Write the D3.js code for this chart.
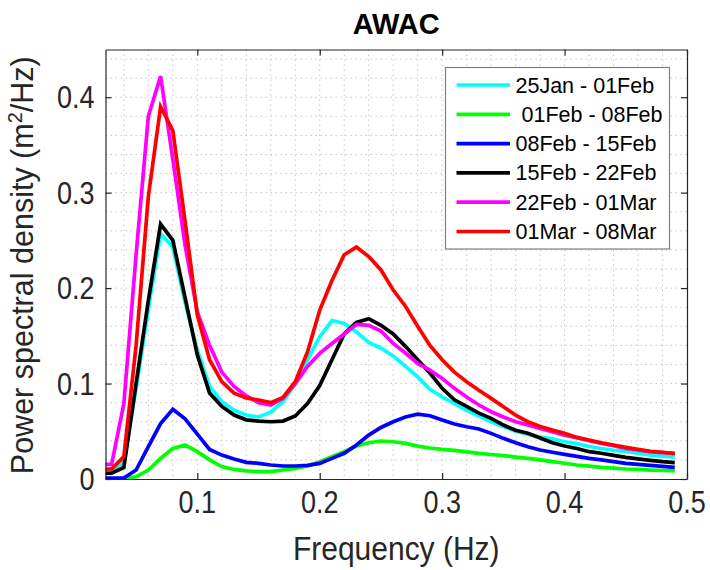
<!DOCTYPE html>
<html>
<head>
<meta charset="utf-8">
<script src="https://cdn.jsdelivr.net/npm/d3@7"></script>
<style>
  body { margin: 0; background: #fff; }
  text { font-family: "Liberation Sans", Arial, sans-serif; fill: #262626; }
</style>
</head>
<body>
<div id="chart"></div>
<script>
// data
const freq = [0.02,0.03,0.04,0.05,0.06,0.07,0.08,0.09,0.10,0.11,0.12,0.13,0.14,0.15,0.16,0.17,
  0.18,0.19,0.20,0.21,0.22,0.23,0.24,0.25,0.26,0.27,0.28,0.29,0.30,0.31,0.32,0.33,0.34,0.35,
  0.36,0.37,0.38,0.39,0.40,0.41,0.42,0.43,0.44,0.45,0.46,0.47,0.48,0.49];

const jan25 = [0.008,0.008,0.018,0.095,0.178,0.257,0.243,0.185,0.135,0.097,0.081,0.072,0.067,0.065,0.070,0.081,
  0.100,0.125,0.149,0.166,0.163,0.154,0.143,0.137,0.129,0.118,0.107,0.094,0.086,0.079,0.072,0.066,0.060,0.055,
  0.050,0.047,0.044,0.042,0.039,0.037,0.034,0.032,0.030,0.029,0.027,0.025,0.024,0.023];
const feb01 = [0,0,0,0.0024,0.0094,0.0216,0.032,0.0356,0.0286,0.020,0.013,0.010,0.0085,0.0077,0.0077,0.0094,
  0.0112,0.0136,0.0182,0.0234,0.0286,0.0346,0.038,0.0398,0.039,0.0373,0.0345,0.0325,0.031,0.030,0.0285,0.0269,0.0257,0.0245,
  0.023,0.0216,0.020,0.0182,0.0165,0.0147,0.0135,0.0122,0.0113,0.0105,0.010,0.0094,0.0089,0.0084];
const feb08 = [0.001,0.001,0.001,0.0094,0.034,0.058,0.073,0.063,0.047,0.031,0.025,0.021,0.0175,0.0164,0.0147,0.0136,
  0.0136,0.0143,0.0164,0.0216,0.0269,0.0356,0.046,0.054,0.060,0.065,0.068,0.0663,0.0618,0.0576,0.0548,0.0524,0.0478,0.0426,
  0.038,0.0338,0.0304,0.028,0.0258,0.0237,0.0216,0.020,0.0182,0.0164,0.0154,0.0143,0.0133,0.0122];
const feb15 = [0.006,0.006,0.012,0.100,0.187,0.267,0.250,0.190,0.130,0.090,0.076,0.067,0.062,0.0607,0.060,0.0607,
  0.066,0.079,0.098,0.125,0.152,0.164,0.168,0.161,0.152,0.139,0.125,0.111,0.095,0.083,0.076,0.069,0.0635,0.0565,
  0.051,0.048,0.043,0.038,0.0346,0.032,0.0286,0.027,0.0248,0.0227,0.021,0.0196,0.0182,0.0171];
const feb22 = [0.0154,0.0154,0.079,0.235,0.380,0.422,0.335,0.245,0.175,0.140,0.112,0.097,0.087,0.080,0.0775,0.0845,
  0.100,0.118,0.1316,0.142,0.152,0.162,0.161,0.155,0.142,0.132,0.121,0.114,0.1054,0.095,0.086,0.0775,0.0705,0.065,
  0.060,0.0565,0.053,0.0495,0.046,0.0433,0.040,0.0373,0.035,0.032,0.0304,0.0286,0.0276,0.0269];
const mar01 = [0.0105,0.0105,0.0234,0.140,0.296,0.390,0.365,0.270,0.172,0.125,0.102,0.090,0.085,0.0827,0.080,0.0855,
  0.102,0.133,0.177,0.208,0.235,0.243,0.233,0.219,0.198,0.181,0.160,0.140,0.125,0.112,0.102,0.093,0.0845,0.0757,
  0.067,0.060,0.055,0.0513,0.0478,0.0436,0.0408,0.038,0.0356,0.0332,0.031,0.029,0.028,0.0265];

const labels = ["25Jan - 01Feb", " 01Feb - 08Feb", "08Feb - 15Feb", "15Feb - 22Feb", "22Feb - 01Mar", "01Mar - 08Mar"];
const colors = ["#00ffff", "#00ff00", "#0000ff", "#000000", "#ff00ff", "#ff0000"];
const allSeries = [jan25, feb01, feb08, feb15, feb22, mar01];

const xTicks = [0.1, 0.2, 0.3, 0.4, 0.5];
const yTicks = [0, 0.1, 0.2, 0.3, 0.4];

// dimensions
const W = 710, H = 570;
const margin = { top: 49.5, right: 23, bottom: 91, left: 105.5 };
const width = W - margin.left - margin.right;
const height = H - margin.top - margin.bottom;

const svg = d3.select("#chart")
  .append("svg")
    .attr("width", W)
    .attr("height", H);

const g = svg.append("g")
    .attr("transform", `translate(${margin.left},${margin.top})`);

const x = d3.scaleLinear().domain([0.025, 0.5]).range([0, width]);
const y = d3.scaleLinear().domain([0, 0.45]).range([height, 0]);

// dotted grid every 0.02
const gridX = d3.range(0.04, 0.4901, 0.02);
const gridY = d3.range(0.02, 0.4401, 0.02);
g.append("g").selectAll("line")
  .data(gridX).enter().append("line")
    .attr("x1", d => x(d)).attr("x2", d => x(d))
    .attr("y1", 0).attr("y2", height)
    .attr("stroke", "#c8c8c8").attr("stroke-width", 1)
    .attr("stroke-dasharray", "1.5,3.5");
g.append("g").selectAll("line")
  .data(gridY).enter().append("line")
    .attr("y1", d => y(d)).attr("y2", d => y(d))
    .attr("x1", 0).attr("x2", width)
    .attr("stroke", "#c8c8c8").attr("stroke-width", 1)
    .attr("stroke-dasharray", "1.5,3.5");

// lines, clipped to the axes left/right
g.append("clipPath").attr("id", "clip")
  .append("rect").attr("x", 0).attr("y", -10).attr("width", width).attr("height", height + 10);

const line = d3.line()
  .x((d, i) => x(freq[i]))
  .y(d => y(d));

g.append("g").attr("clip-path", "url(#clip)")
  .selectAll("path")
  .data(allSeries).enter().append("path")
    .attr("d", line)
    .attr("fill", "none")
    .attr("stroke", (d, i) => colors[i])
    .attr("stroke-width", 3.7)
    .attr("stroke-linejoin", "miter");

// axes with inward ticks on all four sides
const tk = 6;
g.append("g").attr("transform", `translate(0,${height})`)
  .call(d3.axisBottom(x).tickValues(xTicks).tickSize(-tk).tickSizeOuter(0).tickFormat(""));
g.append("g")
  .call(d3.axisTop(x).tickValues(xTicks).tickSize(-tk).tickSizeOuter(0).tickFormat(""));
g.append("g")
  .call(d3.axisLeft(y).tickValues(yTicks).tickSize(-tk).tickSizeOuter(0).tickFormat(""));
g.append("g").attr("transform", `translate(${width},0)`)
  .call(d3.axisRight(y).tickValues(yTicks).tickSize(-tk).tickSizeOuter(0).tickFormat(""));
g.selectAll(".domain, .tick line").attr("stroke", "#262626").attr("stroke-width", 1.2);

// tick labels
g.append("g").selectAll("text")
  .data(xTicks).enter().append("text")
    .attr("transform", d => `translate(${x(d)},${height + 34}) scale(1,1.16)`)
    .attr("text-anchor", "middle")
    .style("font-size", "27px")
    .text(d => d.toFixed(1));
g.append("g").selectAll("text")
  .data(yTicks).enter().append("text")
    .attr("transform", d => `translate(-11,${y(d) + 11}) scale(1,1.16)`)
    .attr("text-anchor", "end")
    .style("font-size", "27px")
    .text(d => d === 0 ? "0" : d.toFixed(1));

// axis titles
svg.append("text")
  .attr("transform", `translate(${margin.left + width / 2},${H - 10}) scale(1,1.1)`)
  .attr("text-anchor", "middle")
  .style("font-size", "30px")
  .text("Frequency (Hz)");

const yl = svg.append("text")
  .attr("transform", `translate(33,${margin.top + height / 2 + 1}) rotate(-90)`)
  .attr("text-anchor", "middle")
  .style("font-size", "30.5px");
yl.append("tspan").text("Power spectral density (m");
yl.append("tspan").attr("dy", -11).style("font-size", "20px").text("2");
yl.append("tspan").attr("dy", 11).text("/Hz)");

svg.append("text")
  .attr("x", margin.left + width / 2)
  .attr("y", 34)
  .attr("text-anchor", "middle")
  .style("font-size", "29px")
  .style("font-weight", "bold")
  .style("fill", "#000")
  .text("AWAC");

// legend
const lg = svg.append("g").attr("transform", "translate(445.5,67.5)");
lg.append("rect")
  .attr("width", 224).attr("height", 181.5)
  .attr("fill", "#fff").attr("stroke", "#7f7f7f").attr("stroke-width", 1.2);
const rows = lg.selectAll("g.row")
  .data(labels).enter().append("g")
    .attr("class", "row")
    .attr("transform", (d, i) => `translate(0,${17.5 + i * 29.3})`);
rows.append("line")
  .attr("x1", 11).attr("x2", 64.5)
  .attr("stroke", (d, i) => colors[i]).attr("stroke-width", 3.7);
rows.append("text")
  .attr("x", 70).attr("y", 7.5)
  .attr("xml:space", "preserve")
  .style("white-space", "pre")
  .style("font-size", "21.5px")
  .style("fill", "#000")
  .text(d => d);
</script>
</body>
</html>
